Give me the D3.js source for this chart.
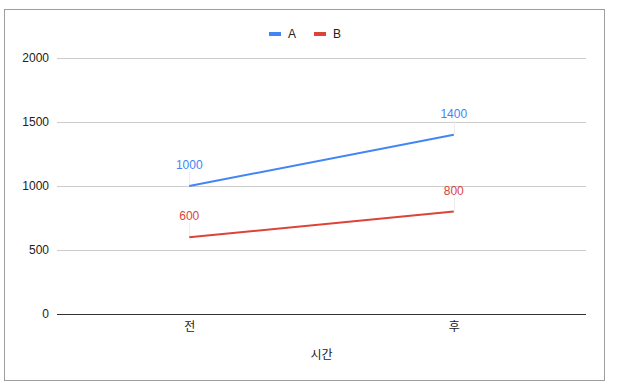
<!DOCTYPE html>
<html>
<head>
<meta charset="utf-8">
<script src="https://cdn.jsdelivr.net/npm/d3@7"></script>
<style>
  body { margin: 0; background: #fff; }
  text { font-family: "Liberation Sans", Arial, "Noto Sans CJK KR", sans-serif; }
</style>
</head>
<body>
<svg id="chart" width="617" height="392"></svg>
<script>
// data
var categories = ['전', '후'];
var seriesNames = ['A', 'B'];
var valuesA = [1000, 1400];
var valuesB = [600, 800];
var yTicks = [0, 500, 1000, 1500, 2000];
var colors = ['#4285f4', '#db4437'];

var svg = d3.select('#chart');
var margin = {left: 57, right: 31, top: 58, bottom: 78};
var W = 617, H = 392;

// chart frame
svg.append('rect')
  .attr('x', 4.5).attr('y', 9.5)
  .attr('width', 600).attr('height', 371)
  .attr('fill', '#fff').attr('stroke', '#9e9e9e').attr('stroke-width', 1);

var x = d3.scalePoint().domain(categories).range([margin.left, W - margin.right]).padding(0.5);
var y = d3.scaleLinear().domain([0, 2000]).range([H - margin.bottom, margin.top]);

// gridlines
svg.append('g').selectAll('line').data(yTicks).join('line')
  .attr('x1', margin.left).attr('x2', W - margin.right)
  .attr('y1', function(d){ return Math.round(y(d)) + 0.5; })
  .attr('y2', function(d){ return Math.round(y(d)) + 0.5; })
  .attr('stroke', function(d){ return d === 0 ? '#333' : '#ccc'; })
  .attr('stroke-width', 1);

// y axis labels
var yAxis = d3.axisLeft(y).tickValues(yTicks).tickFormat(d3.format('d')).tickSize(0).tickPadding(8);
var gy = svg.append('g').attr('transform', 'translate(' + margin.left + ',0)').call(yAxis);
gy.select('.domain').remove();
gy.selectAll('text').attr('font-size', 12).attr('fill', '#222')
  .attr('font-family', '"Liberation Sans", Arial, sans-serif');

// x axis labels
var xAxis = d3.axisBottom(x).tickSize(0).tickPadding(8);
var gx = svg.append('g').attr('transform', 'translate(0,' + y(0) + ')').call(xAxis);
gx.select('.domain').remove();
gx.selectAll('text').attr('font-size', 12).attr('fill', '#222')
  .attr('font-family', '"Noto Sans CJK KR", sans-serif');

// x axis title
svg.append('text')
  .attr('x', (margin.left + W - margin.right) / 2).attr('y', 359)
  .attr('text-anchor', 'middle').attr('font-size', 12).attr('fill', '#222')
  .attr('font-family', '"Noto Sans CJK KR", sans-serif')
  .text('시간');

var series = [valuesA, valuesB];
var line = d3.line()
  .x(function(d, i){ return x(categories[i]); })
  .y(function(d){ return y(d); });

series.forEach(function(vals, s) {
  // leader lines
  svg.append('g').selectAll('line').data(vals).join('line')
    .attr('x1', function(d, i){ return Math.round(x(categories[i])) + 0.5; })
    .attr('x2', function(d, i){ return Math.round(x(categories[i])) + 0.5; })
    .attr('y1', function(d){ return y(d) - 14; })
    .attr('y2', function(d){ return y(d); })
    .attr('stroke', '#ececec').attr('stroke-width', 1);

  svg.append('path').datum(vals)
    .attr('d', line)
    .attr('fill', 'none')
    .attr('stroke', colors[s])
    .attr('stroke-width', 2);

  svg.append('g').selectAll('text').data(vals).join('text')
    .attr('x', function(d, i){ return x(categories[i]); })
    .attr('y', function(d){ return y(d) - 17; })
    .attr('text-anchor', 'middle')
    .attr('font-size', 12)
    .attr('font-family', 'Roboto, sans-serif')
    .attr('fill', colors[s])
    .text(function(d){ return d; });
});

// legend
var legendX = [269, 314];
seriesNames.forEach(function(name, i) {
  svg.append('line')
    .attr('x1', legendX[i]).attr('x2', legendX[i] + 12)
    .attr('y1', 34).attr('y2', 34)
    .attr('stroke', colors[i]).attr('stroke-width', 4);
  svg.append('text')
    .attr('x', legendX[i] + 19).attr('y', 38)
    .attr('font-size', 12).attr('fill', '#222')
    .text(name);
});
</script>
</body>
</html>
